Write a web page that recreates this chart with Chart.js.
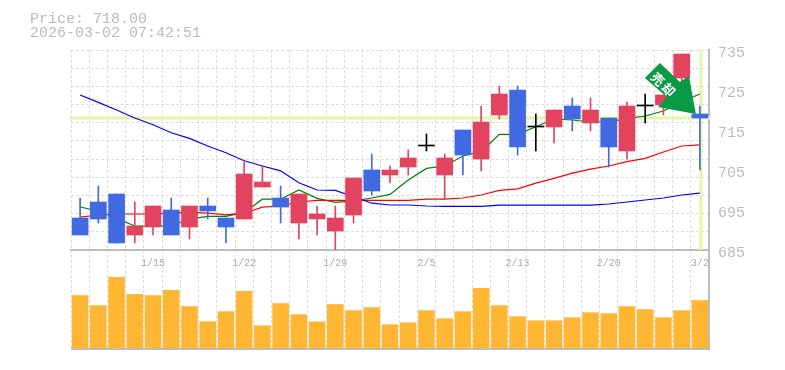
<!DOCTYPE html>
<html>
<head>
<meta charset="utf-8">
<title>Price chart</title>
<script src="https://cdn.jsdelivr.net/npm/chart.js@4/dist/chart.umd.js"></script>
<style>
body { margin: 0; background: #fff; }
canvas { display: block; }
</style>
</head>
<body>
<canvas id="price_chart" width="785" height="370"></canvas>
<script>
const dates = ['1/8','1/9','1/13','1/14','1/15','1/16','1/19','1/20','1/21','1/22','1/23','1/26','1/27','1/28','1/29','1/30',
    '2/2','2/3','2/4','2/5','2/6','2/9','2/10','2/12','2/13','2/16','2/17','2/18','2/19','2/20','2/24','2/25','2/26','2/27','3/2'];
const dateLabels = ['1/15','1/22','1/29','2/5','2/13','2/20','3/2'];

const opens  = [693,697,699,688.75,690.75,695,690.75,696,693,692.75,700.75,698,691.75,692.75,689.75,693.75,
    705,703.75,705.75,711,703.75,715,707.75,718.75,725,715.75,715.75,721,716.75,718,709.75,721,721.25,728,719];
const highs  = [698,701,699,697,696,698,696,698,693,707,706,701,699,696,696,703,
    709,706,710,714,709,715,721,726,726,719,720,723,723,718,722,724,723.75,734,721];
const lows   = [688.75,691.75,686.75,686.75,688.75,688.75,687.75,692.75,686.75,692.75,700.75,691.75,687.75,688.75,685,691.75,
    698.75,701.75,703.75,709.75,697.75,703.75,704.75,717.75,708.75,709.75,711.75,714.75,714.75,705.75,707.75,716.75,718.75,727,705];
const closes = [688.75,692.75,686.75,691,696,688.75,696,694.75,690.75,704,702,695.75,699,694,693,703,
    699.75,705,708,711,708,708.75,717,724,710.75,715.75,720,717.75,720,710.75,721,721,723.75,734,718];

const maShort = [695.75,694.75,692.9,691,691,691,692.7,693.4,693.4,694.4,697.7,697.7,700,697.9,696.9,697.3,
    698,698.9,702.5,705.4,706,708.5,709.6,713.9,713.9,715.8,717.75,717.5,717,717,717.9,718.5,719.75,722,724];
const maMid = [693.2,693.75,694,694,694,694.2,694.4,694.2,693.8,694.2,695.7,696,697,697.4,697.4,697.4,
    697.4,697.4,697.4,697.7,697.7,698,698.75,699.9,700.3,701.7,702.9,704.2,705.2,706,707.1,707.9,709.5,711,711.3];
const maLong = [723.75,721.9,720,718,716.3,714.3,712.9,711,709.3,707.3,706,704.8,701.8,700,699.9,698.3,
    696.7,696.25,696.25,696,695.9,695.9,695.9,696.2,696.2,696.2,696.2,696.2,696.2,696.5,697,697.5,698,698.75,699.2];

const volumes = [53,43,71,54,53,58,42,27,37,57,23,45,34,27,44,38,41,24,26,38,30,37,60,43,32,28,28,31,36,35,42,39,31,38,48];

const priceLabels = [685,695,705,715,725,735];
const priceGrid = [685,689.55,694.09,698.64,703.18,707.73,712.27,716.82,721.36,725.91,730.45,735];
const lastPrice = 718;
const titleLines = ['Price: 718.00', '2026-03-02 07:42:51'];
const signalText = '売却';

const textColor = '#bbbbbb';
const gridColor = '#dddddd';
const axisColor = '#bdbdbd';
const upColor = '#e2445f';
const downColor = '#4169e1';
const priceLineColor = '#e5f5a8';

function candleColor(i) {
    if (opens[i] === closes[i]) return '#000000';
    return closes[i] > opens[i] ? upColor : downColor;
}

// line at the last price and at the last day, under the candles
const priceLines = {
    id: 'priceLines',
    beforeDatasetsDraw(chart) {
        const ctx = chart.ctx;
        const area = chart.chartArea;
        const y = chart.scales.y.getPixelForValue(lastPrice);
        const x = chart.scales.x.getPixelForValue(dates.length - 1);
        ctx.save();
        ctx.strokeStyle = priceLineColor;
        ctx.lineWidth = 3;
        ctx.beginPath();
        ctx.moveTo(area.left - 1, y);
        ctx.lineTo(area.right + 1, y);
        ctx.moveTo(x + 1, chart.scales.y.top);
        ctx.lineTo(x + 1, chart.scales.y.bottom);
        ctx.stroke();
        ctx.restore();
    }
};

// header text and the sell arrow pointing at the last candle
const overlay = {
    id: 'overlay',
    afterDatasetsDraw(chart) {
        const ctx = chart.ctx;
        const x = chart.scales.x.getPixelForValue(dates.length - 1);
        const y = chart.scales.y.getPixelForValue(lastPrice);
        const arrow = [[-55,-40],[-40,-55],[-20,-36],[-11,-42],[-4,-4],[-42,-11],[-33,-21]];
        ctx.save();
        ctx.fillStyle = '#0a9a45';
        ctx.beginPath();
        arrow.forEach(p => ctx.lineTo(x + p[0], y + p[1]));
        ctx.closePath();
        ctx.fill();
        ctx.translate(x - 36, y - 33);
        ctx.rotate(Math.PI / 4);
        ctx.fillStyle = '#ffffff';
        ctx.font = 'bold 13px "Noto Sans CJK JP"';
        ctx.letterSpacing = '2px';
        ctx.textAlign = 'center';
        ctx.textBaseline = 'middle';
        ctx.fillText(signalText, 0, 0);
        ctx.restore();

        ctx.save();
        ctx.fillStyle = textColor;
        ctx.font = '15px "Liberation Mono"';
        ctx.fillText(titleLines[0], 30, 23);
        ctx.fillText(titleLines[1], 30, 37);
        ctx.restore();
    }
};

function lineDataset(data, color) {
    return {
        type: 'line',
        data: data,
        yAxisID: 'y',
        borderColor: color,
        borderWidth: 1.2,
        pointRadius: 0,
        tension: 0,
        order: 3
    };
}

new Chart(document.getElementById('price_chart').getContext('2d'), {
    type: 'bar',
    data: {
        labels: dates,
        datasets: [
            lineDataset(maLong, '#0000ff'),
            lineDataset(maMid, '#ff0000'),
            lineDataset(maShort, '#008000'),
            {
                data: dates.map((d, i) => [lows[i], highs[i]]),
                yAxisID: 'y',
                backgroundColor: dates.map((d, i) => candleColor(i)),
                barThickness: 1,
                grouped: false,
                order: 2
            },
            {
                data: dates.map((d, i) => [opens[i], closes[i]]),
                yAxisID: 'y',
                backgroundColor: dates.map((d, i) => candleColor(i)),
                barThickness: 16,
                minBarLength: 1,
                grouped: false,
                order: 1
            },
            {
                data: volumes,
                yAxisID: 'v',
                backgroundColor: '#ffb733',
                barThickness: 16,
                grouped: false,
                order: 1
            }
        ]
    },
    options: {
        responsive: false,
        animation: false,
        layout: { padding: { top: 50, left: 71, bottom: 21, right: 0 } },
        plugins: {
            legend: { display: false },
            tooltip: { enabled: false }
        },
        scales: {
            x: {
                position: { y: 685 },
                offset: true,
                grid: { color: gridColor, offset: true, drawTicks: false },
                border: { color: axisColor, width: 2, dash: [3, 2] },
                ticks: {
                    autoSkip: false,
                    maxRotation: 0,
                    color: '#aaaaaa',
                    padding: 7,
                    font: { family: '"Liberation Mono"', size: 10 },
                    callback(value) {
                        const label = this.getLabelForValue(value);
                        return dateLabels.includes(label) ? label : '';
                    }
                }
            },
            y: {
                position: 'right',
                stack: 'panes',
                stackWeight: 200,
                weight: 1,
                min: 685,
                max: 735,
                afterBuildTicks(scale) {
                    const values = priceGrid.concat(priceLabels.filter(v => !priceGrid.includes(v)));
                    scale.ticks = values.map(v => ({ value: v }));
                },
                afterFit(scale) { scale.width = 76; },
                grid: {
                    drawTicks: false,
                    color: ctx => priceGrid.includes(ctx.tick.value) ? gridColor : 'transparent'
                },
                border: { color: axisColor, width: 2, dash: [3, 2] },
                ticks: {
                    autoSkip: false,
                    color: textColor,
                    padding: 9,
                    labelOffset: 3,
                    font: { family: '"Liberation Mono"', size: 15 },
                    callback: value => priceLabels.includes(value) ? String(value) : ''
                }
            },
            v: {
                position: 'right',
                stack: 'panes',
                stackWeight: 99,
                weight: 2,
                min: 0,
                max: 98,
                afterBuildTicks(scale) {
                    scale.ticks = [{ value: 0 }];
                },
                afterFit(scale) { scale.width = 76; },
                grid: { drawTicks: false, color: axisColor, lineWidth: 2 },
                border: { color: axisColor, width: 2 },
                ticks: { callback: () => '' }
            }
        }
    },
    plugins: [priceLines, overlay]
});
</script>
</body>
</html>
